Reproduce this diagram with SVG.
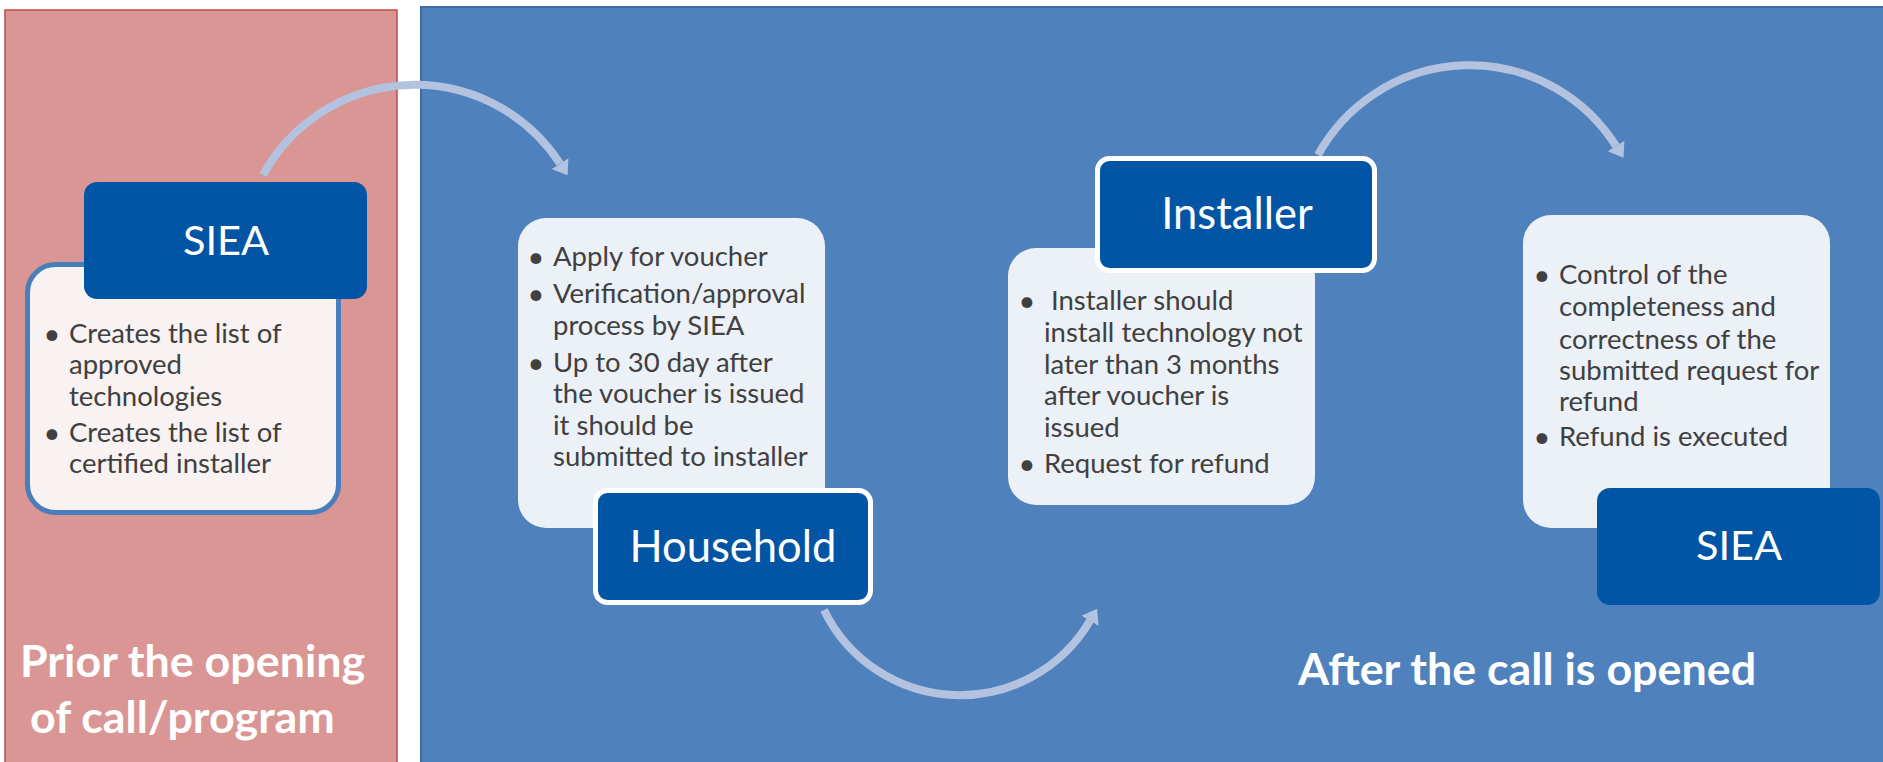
<svg xmlns="http://www.w3.org/2000/svg" width="1883" height="762" viewBox="0 0 1883 762">
<defs>
<style>
.lbl{font-family:Lato,"Open Sans",sans-serif;font-size:43.5px;fill:#ffffff;text-anchor:middle}
.siea{font-size:41.5px}
.body{font-family:Lato,"Open Sans",sans-serif;font-size:27.5px;fill:#404040}
.bul{font-family:Lato,"Open Sans",sans-serif;font-size:29px;fill:#404040;text-anchor:middle}
.title{font-family:Lato,"Open Sans",sans-serif;font-size:44.8px;font-weight:bold;fill:#ffffff}
.box{fill:#0155A4}
.desc{fill:#ECF0F7}
.arc{fill:none;stroke:#B3C2DE;stroke-width:8}
</style>
<marker id="head" markerUnits="userSpaceOnUse" markerWidth="16" markerHeight="22" refX="0" refY="10" orient="auto" viewBox="0 0 16 20">
<path d="M0,0 L14,10 L0,20 Z" fill="#B3C2DE"/>
</marker>
</defs>
<rect x="0" y="0" width="1883" height="762" fill="#ffffff"/>
<g id="panel-prior">
<rect x="5" y="10" width="392" height="760" fill="#D99694" stroke="#BE4B48" stroke-width="1.5"/>
<text class="title" x="20" y="677">Prior the opening</text>
<text class="title" x="30" y="733">of call/program</text>
</g>
<g id="panel-after">
<rect x="421" y="7" width="1470" height="765" fill="#4F81BD" stroke="#3D6BA5" stroke-width="2"/>
<text class="title" x="1298" y="685">After the call is opened</text>
</g>
<g id="connectors">
<path class="arc" d="M263,175 A173,173 0 0,1 560,163.6" marker-end="url(#head)"/>
<path class="arc" d="M824,610 A151,151 0 0,0 1090,620.8" marker-end="url(#head)"/>
<path class="arc" d="M1318,155 A173,173 0 0,1 1616,146" marker-end="url(#head)"/>
</g>
<g id="node-siea1">
<rect x="27.5" y="264.5" width="311" height="248" rx="28" fill="#F8F2F2" stroke="#4A7EBB" stroke-width="5"/>
<rect class="box" x="84" y="182" width="283" height="117" rx="13"/>
<text class="lbl siea" x="226" y="255">SIEA</text>
<text class="bul" x="52" y="344">•</text>
<text class="body" x="69" y="343">Creates the list of</text>
<text class="body" x="69" y="374">approved</text>
<text class="body" x="69" y="406">technologies</text>
<text class="bul" x="52" y="443">•</text>
<text class="body" x="69" y="442">Creates the list of</text>
<text class="body" x="69" y="473">certified installer</text>
</g>
<g id="node-household">
<rect class="desc" x="518" y="218" width="307" height="310" rx="28"/>
<text class="bul" x="536" y="267">•</text>
<text class="body" x="553" y="266">Apply for voucher</text>
<text class="bul" x="536" y="304">•</text>
<text class="body" x="553" y="303">Verification/approval</text>
<text class="body" x="553" y="334.5">process by SIEA</text>
<text class="bul" x="536" y="372.5">•</text>
<text class="body" x="553" y="371.5">Up to 30 day after</text>
<text class="body" x="553" y="403">the voucher is issued</text>
<text class="body" x="553" y="434.5">it should be</text>
<text class="body" x="553" y="466">submitted to installer</text>
<rect class="box" x="595.5" y="490.5" width="275" height="112" rx="12" stroke="#ffffff" stroke-width="5"/>
<text class="lbl" x="733" y="562">Household</text>
</g>
<g id="node-installer">
<rect class="desc" x="1008" y="248" width="307" height="257" rx="28"/>
<rect class="box" x="1097.5" y="158.5" width="277" height="112" rx="12" stroke="#ffffff" stroke-width="5"/>
<text class="lbl" x="1237" y="229">Installer</text>
<text class="bul" x="1027" y="311">•</text>
<text class="body" x="1051" y="310">Installer should</text>
<text class="body" x="1044" y="342">install technology not</text>
<text class="body" x="1044" y="374">later than 3 months</text>
<text class="body" x="1044" y="405">after voucher is</text>
<text class="body" x="1044" y="437">issued</text>
<text class="bul" x="1027" y="474">•</text>
<text class="body" x="1044" y="473">Request for refund</text>
</g>
<g id="node-siea2">
<rect class="desc" x="1523" y="215" width="307" height="313" rx="28"/>
<text class="bul" x="1542" y="285">•</text>
<text class="body" x="1559" y="284">Control of the</text>
<text class="body" x="1559" y="316">completeness and</text>
<text class="body" x="1559" y="349">correctness of the</text>
<text class="body" x="1559" y="380">submitted request for</text>
<text class="body" x="1559" y="411">refund</text>
<text class="bul" x="1542" y="447">•</text>
<text class="body" x="1559" y="446">Refund is executed</text>
<rect class="box" x="1597" y="488" width="283" height="117" rx="13"/>
<text class="lbl siea" x="1739" y="560">SIEA</text>
</g>
</svg>
